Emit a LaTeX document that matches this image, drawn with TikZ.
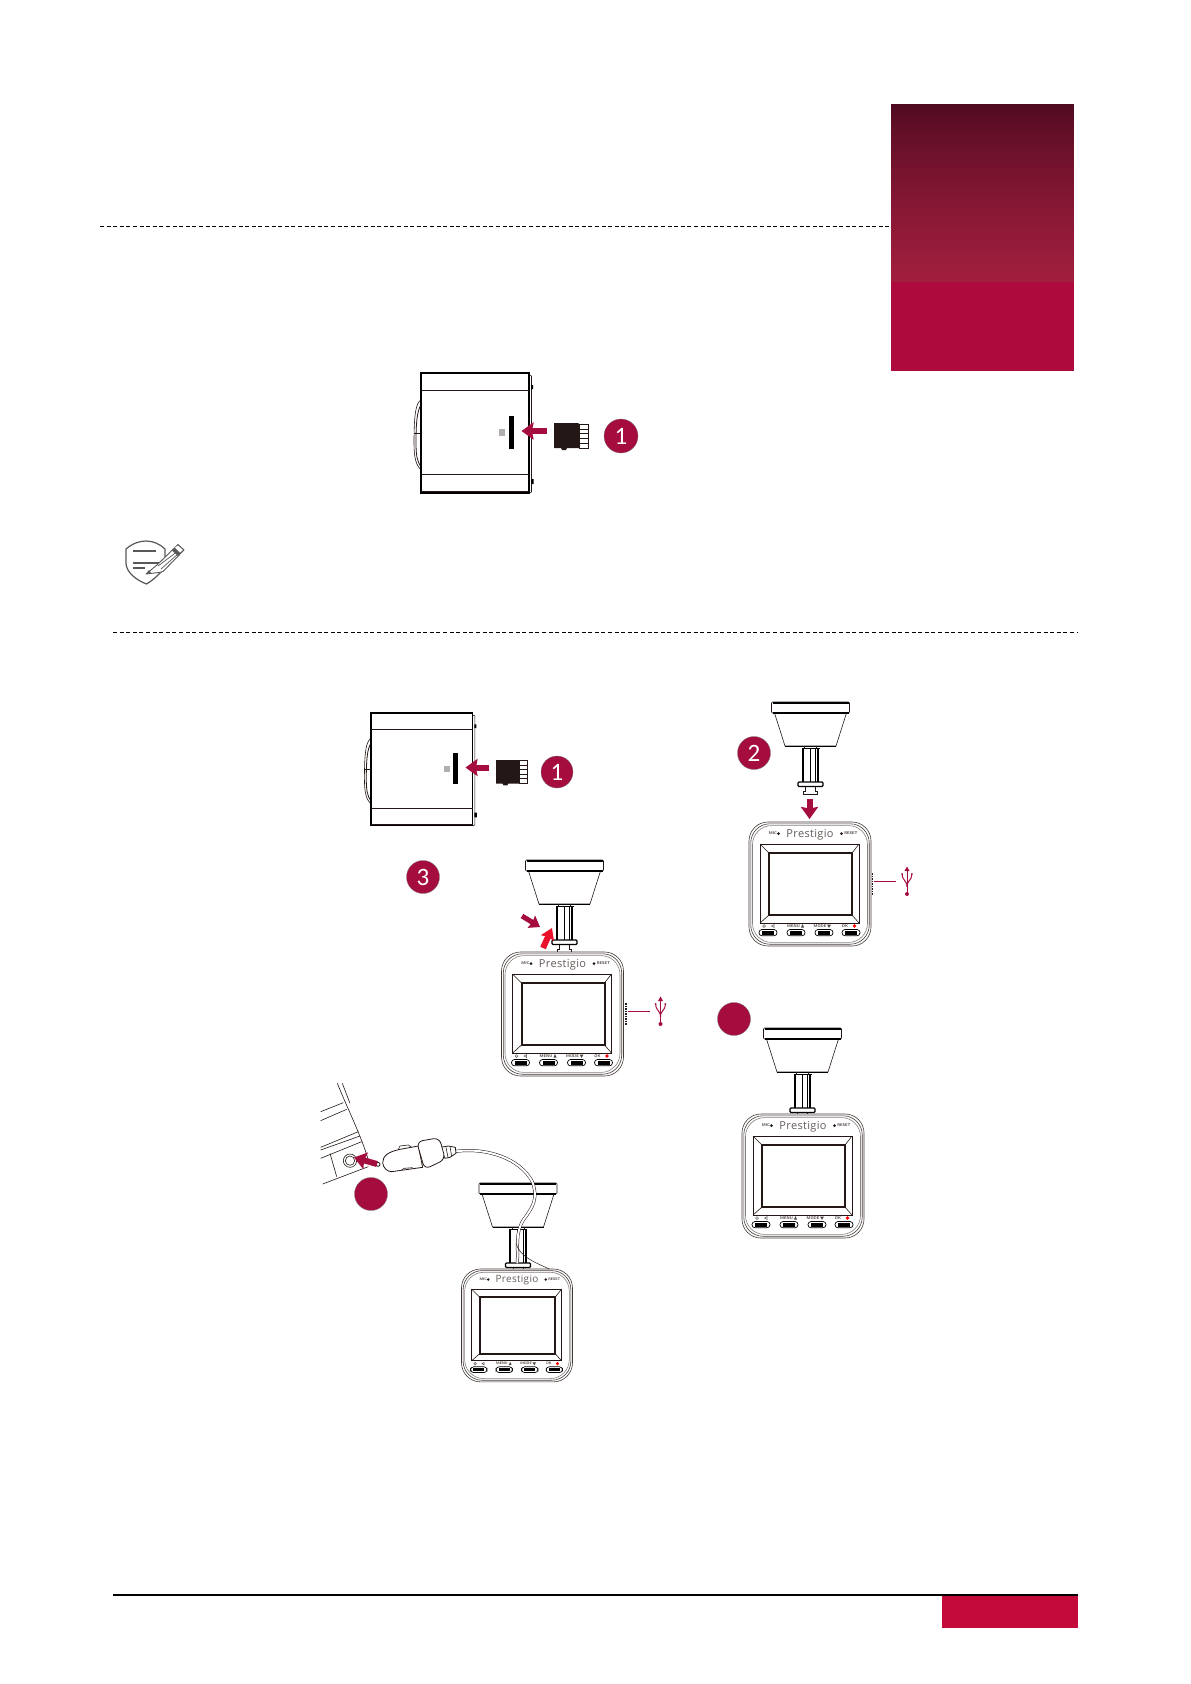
\documentclass[tikz,border=0pt]{standalone}
\usepackage{fontspec}
\setmainfont{Carlito}
\newfontfamily\brandfont{Open Sans}[Scale=1,LetterSpace=3]
\usetikzlibrary{arrows.meta}
\definecolor{brandred}{HTML}{A50D3F}
\definecolor{hotred}{HTML}{E8102A}
\definecolor{barred}{HTML}{AD0B3E}
\definecolor{footred}{HTML}{C40A3A}
\definecolor{gradtop}{HTML}{4D0A20}
\definecolor{gradbot}{HTML}{A21E3E}
\definecolor{inkdark}{HTML}{231815}
\definecolor{icongrey}{HTML}{58585A}
\tikzset{
  rulebk/.style={line width=1pt,dash pattern=on 4pt off 2.6pt,black},
  badge/.style={circle,fill=brandred,draw=inkdark!60,line width=.3pt,minimum size=33pt,inner sep=0pt,text=white,font=\fontsize{25}{25}\selectfont},
  pushdark/.style={-{Stealth[inset=1.5pt,length=12pt,width=17pt]},line width=6pt,draw=brandred},
  pushhot/.style={-{Stealth[inset=1.5pt,length=11pt,width=14pt]},line width=6pt,draw=hotred},
  camline/.style={draw=inkdark!85,line width=.6pt,rounded corners=19pt},
  tinylabel/.style={inner sep=0pt,text=inkdark!85,transform shape,font=\sffamily\bfseries\fontsize{4}{4}\selectfont},
  butcap/.style={draw=black,fill=white,line width=.7pt,rounded corners=3pt},
  cam/.pic={
    \path[camline,fill=white] (-61,0) rectangle (61,124);
    \path[camline] (-59.2,1.8) rectangle (59.2,122.2);
    \path[camline,draw=inkdark!55] (-57.5,3.6) rectangle (57.5,120.4);
    % screen
    \draw[inkdark,line width=.9pt] (-50,22) rectangle (49,101);
    \draw[inkdark,line width=2pt] (-41,31) rectangle (42,93);
    \draw[inkdark,line width=.6pt] (-50,22) -- (-41,31) (49,22) -- (42,31) (-50,101) -- (-41,93) (49,101) -- (42,93);
    % brand and top labels
    \node[transform shape,inner sep=0pt,text=inkdark!70,font=\brandfont\fontsize{11}{11}\selectfont] (brand) at (0,12.5) {Prestigio};
    \node[tinylabel] (micl) at (-37,11.5) {MIC};
    \fill[inkdark] (-31.5,11.5) circle (1.5pt);
    \fill[inkdark] (31.5,11.5) circle (1.5pt);
    \node[tinylabel] (rstl) at (41,11.5) {RESET};
    % bottom labels
    \draw[inkdark!75,line width=.5pt] (-46,104) circle (1.4pt);
    \draw[inkdark!75,line width=.5pt] (-36,102.6) -- (-38.5,104) -- (-36,105.4) -- cycle;
    \node[tinylabel] (menul) at (-16.5,104) {MENU};
    \fill[inkdark!80] (-9,105.5) -- (-6,105.5) -- (-7.5,102) -- cycle;
    \node[tinylabel] (model) at (10,104) {MODE};
    \fill[inkdark!80] (17,102.5) -- (21,102.5) -- (19,105.8) -- cycle;
    \node[tinylabel] (okl) at (35,104) {OK};
    \fill[red] (44.5,104) circle (1.9pt);
    % buttons
    \foreach \bx in {-42,-14,14,41}{
      \path[butcap] (\bx-9,107.5) rectangle (\bx+9,113.8);
      \fill[black] (\bx-6,108.6) rectangle (\bx+6,112.6);
    }
  },
  mountbase/.pic={
    % cup
    \draw[inkdark,line width=.6pt,fill=white] (-36,11) -- (-25.5,44) -- (25.5,44) -- (36,11) -- cycle;
    \draw[inkdark,line width=.6pt,fill=white,rounded corners=1pt] (-39,0) rectangle (39,11);
    \draw[black,line width=2pt] (-38,.5) -- (38,.5);
    \draw[black,line width=1.4pt] (-38,11) -- (38,11);
    \draw[black,line width=1pt] (-25.5,44) -- (25.5,44);
    % stem
    \draw[inkdark,line width=.6pt] (-6,44) -- (-6,46.5) -- (6,46.5) -- (6,44);
    \draw[black,line width=1.7pt] (-7.8,46.5) -- (-7.8,80);
    \draw[black,line width=1.7pt] (7.8,46.5) -- (7.8,80);
    \draw[black,line width=.6pt] (-9,46.5) -- (9,46.5) (-.5,46.5) -- (-.5,80) (5,46.5) -- (5,80);
    % flange and plug
    \draw[inkdark,line width=.8pt,fill=white] (-5,84) -- (-5,89) -- (-7,89) -- (-7,92.5) -- (7,92.5) -- (7,89) -- (5,89) -- (5,84);
    \draw[black,line width=1.2pt,fill=white,rounded corners=1pt] (-12.5,80) rectangle (12.5,84.5);
  },
  usb/.pic={
    \draw[inkdark,line width=1.6pt,dash pattern=on 1.6pt off .9pt] (62.5,51) -- (62.5,73);
    \draw[brandred,line width=.8pt] (64,59) -- (86,59);
    \draw[brandred,line width=.9pt] (97,47) -- (97,72);
    \fill[brandred] (97,44.5) -- (99.5,49) -- (94.5,49) -- cycle;
    \fill[brandred] (97,72) circle (2pt);
    \draw[brandred,line width=1pt] (92.2,52) .. controls (92.2,59) and (97,58) .. (97,65) .. controls (97,58) and (101.8,59) .. (101.8,52);
    \fill[brandred] (92.2,52) circle (1pt) (101.8,52) circle (1pt);
  },
  sidecam/.pic={
    \draw[inkdark,line width=.6pt] (0,27) .. controls (-5,30) and (-7,40) .. (-7,70) .. controls (-7,85) and (-5,92) .. (0,97);
    \draw[inkdark,line width=.8pt] (0,32) .. controls (-4,38) and (-5,50) .. (-5,70) .. controls (-5,82) and (-4,88) .. (0,94);
    \draw[inkdark,line width=.5pt] (-7,60) -- (0,60);
    \draw[inkdark,line width=.6pt] (108,2) -- (110.5,3) -- (110.5,119) -- (108,120);
    \fill[black] (110,12) rectangle (112,16) (110,106) rectangle (112.5,111);
    \draw[black,line width=1.3pt,fill=white] (0,0) rectangle (108,120);
    \draw[inkdark,line width=.7pt] (0,17) -- (108,17) (0,101) -- (108,101) (0,118.5) -- (108,118.5);
    \fill[black] (87.5,43) rectangle (93,76);
    \fill[inkdark!35] (78,56) rectangle (84,63);
    % card
    \fill[inkdark] (133,50) -- (157,50) -- (158,51) -- (158,75) -- (146,75) -- (145,77) -- (141,77) -- (140,75) -- (133,75) -- cycle;
    \draw[inkdark,line width=1pt,fill=white] (158,51) rectangle (167,75);
    \foreach \sy in {56,60,65,70} \draw[inkdark,line width=1pt] (158,\sy) -- (167,\sy);
    % arrow
    \draw[pushdark] (126,58) -- (100.5,58);
  },
}
\begin{document}
\begin{tikzpicture}[x=1pt,y=-1pt]
\useasboundingbox (0,0) rectangle (1191,1684);
\fill[white] (0,0) rectangle (1191,1684);

% side tab
\foreach \row in {0,2,...,178}{
  \pgfmathsetmacro{\pct}{100*(\row/178)^0.72}
  \fill[gradbot!\pct!gradtop] (891,104+\row) rectangle (1074,106.5+\row);
}
\fill[barred] (891,282) rectangle (1074,371);

% rules
\coordinate (ruleAl) at (100,226.5);
\coordinate (ruleAr) at (890,226.5);
\coordinate (ruleBl) at (113,632.5);
\coordinate (ruleBr) at (1077,632.5);
\draw[rulebk] (ruleAl) -- (ruleAr);
\draw[rulebk] (ruleBl) -- (ruleBr);
\coordinate (footl) at (113,1595);
\coordinate (footr) at (1078,1595);
\draw[black,line width=1.6pt] (footl) -- (footr);
\fill[footred] (942,1596) rectangle (1078,1628);

% first side view
\pic at (421,373) {sidecam};
\node[badge,minimum size=34pt] (n1a) at (621,436) {1};

% note icon
\begin{scope}[icongrey]
\draw[line width=1.2pt,line join=round] (126,549) .. controls (133,543) and (140,541) .. (146,541) .. controls (153,541) and (160,544) .. (165,549) -- (165,567) .. controls (160,574) and (153,580) .. (146.5,584) .. controls (136,580) and (126,572) .. (126,563) -- cycle;
\draw[line width=1.5pt] (133,551) -- (156,551);
\draw[line width=2pt] (133,562.5) -- (161,562.5);
\draw[line width=1.5pt] (133,568) -- (145,568);
\draw[line width=.9pt,fill=white,line join=round] (146,574) -- (157,565) -- (178,544.5) -- (184,550) -- (163,571.5) -- (159,572.5) -- cycle;
\draw[line width=.7pt] (158,566) -- (176,552.5) (161,569) -- (178,554);
\fill (172,550.5) -- (178,544.5) -- (184,550) -- (178,556) -- cycle;
\fill[white] (175,547.5) -- (178,545.5) -- (183,550) -- (180,552.5) -- cycle;
\fill (146,574) -- (149,570) -- (151,572.5) -- cycle;
\end{scope}

% second side view
\pic[scale=.94] at (371,713) {sidecam};
\node[badge,minimum size=32pt] (n1b) at (557,772) {1};

% step 2 unit
\pic at (810.5,702) {mountbase};
\pic at (810,822) {cam};
\pic at (810,822) {usb};
\draw[pushdark] (809.5,799) -- (809.5,819);
\node[badge,minimum size=33pt] (n2) at (754,753) {2};

% step 3 unit
\node[badge] (n3) at (423,877) {3};
\pic at (564.5,860) {mountbase};
\pic at (562.5,952) {cam};
\pic at (563.5,952) {usb};
\coordinate (d1) at (522,916);
\coordinate (d2) at (540,927);
\draw[pushdark,line width=5pt,-{Stealth[inset=1pt,length=10pt,width=14pt]}] (d1) -- (d2);
\coordinate (h1) at (543,948);
\coordinate (h2) at (552,928);
\draw[pushhot] (h1) -- (h2);

% seated unit, right column
\pic at (802.5,1028) {mountbase};
\pic at (803,1114) {cam};
\node[badge] (n4) at (734,1019) {};

% seated unit with charger
\pic at (518,1183) {mountbase};
\pic[scale=.91] at (517,1269) {cam};

\begin{scope}[shift={(300,1070)},x=.3333pt,y=-.3333pt]
% dashboard
\draw[inkdark,line width=.6pt] (112,40) .. controls (140,110) and (185,200) .. (205,270);
\draw[inkdark,line width=.6pt] (127,40) -- (150,100);
\draw[inkdark,line width=.6pt] (62,125) -- (130,98) (62,152) -- (140,118);
\draw[inkdark,line width=.6pt] (62,232) -- (175,185) (62,240) -- (180,198) (62,265) -- (185,215);
\draw[inkdark,line width=.6pt] (90,250) -- (110,320);
\draw[inkdark,line width=.6pt] (68,342) -- (205,290);
\draw[inkdark,line width=.6pt] (150,272) circle (20) (150,272) circle (14);
% cable
\draw[inkdark,line width=.5pt,double=white,double distance=2pt] (468,244) .. controls (560,232) and (660,265) .. (697,335) .. controls (715,385) and (700,410) .. (670,450) .. controls (645,490) and (655,530) .. (652,580);
\draw[inkdark,line width=.5pt] (648,520) .. controls (660,560) and (700,575) .. (748,597);
% charger
\draw[inkdark,line width=.8pt,fill=white,line join=round] (420,232) -- (445,228) -- (466,232) -- (468,250) -- (450,262) -- (435,265) -- cycle;
\draw[inkdark,line width=.6pt] (438,232) -- (444,262) (450,230) -- (455,258);
\draw[inkdark,line width=.8pt,fill=white,line join=round] (355,228) -- (300,238) .. controls (265,245) and (248,258) .. (248,278) .. controls (250,295) and (262,305) .. (275,305) -- (368,292) -- cycle;
\draw[inkdark,line width=.8pt,fill=white,line join=round,rounded corners=6] (350,215) -- (418,203) -- (436,268) -- (374,298) -- cycle;
\draw[inkdark,line width=.8pt,fill=white] (234,283) circle (6);
\draw[inkdark,line width=.6pt] (295,238) -- (300,228) -- (325,225) -- (335,232) (305,300) -- (312,295) -- (338,293);
\end{scope}

\coordinate (a1) at (377,1164);
\coordinate (a2) at (354,1157.5);
\draw[pushdark] (a1) -- (a2);
\node[badge] (n5) at (371,1194) {};
\end{tikzpicture}
\end{document}
